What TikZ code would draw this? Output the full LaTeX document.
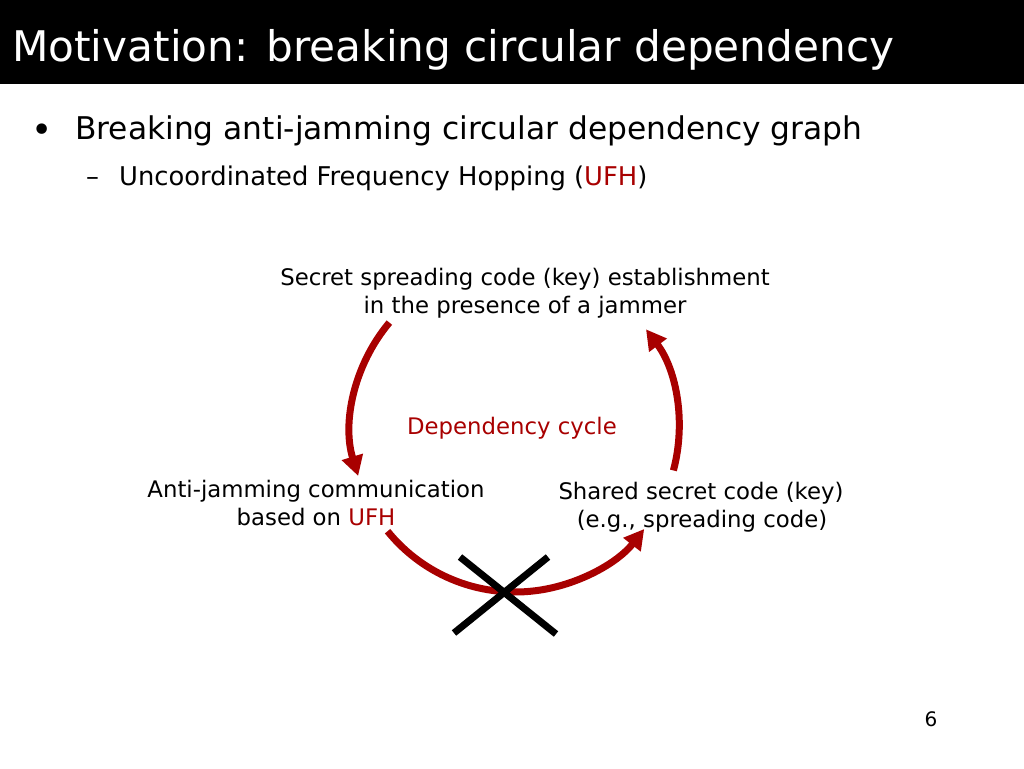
\documentclass[tikz,border=0pt]{standalone}
\usepackage{fontspec}
\setmainfont{DejaVu Sans}
\usetikzlibrary{arrows.meta}
\definecolor{cyc}{RGB}{168,0,0}
\tikzset{
  lbl/.style={inner sep=0pt, align=center, font=\fontsize{22.8}{28}\selectfont},
  cycarrow/.style={draw=cyc, line width=7pt, -{Triangle[length=20pt,width=21pt]}},
  crossline/.style={draw=black, line width=7pt}
}
\begin{document}
\begin{tikzpicture}[x=1pt,y=-1pt]
\useasboundingbox (0,0) rectangle (1024,768);
\fill[black] (0,0) rectangle (1024,84);
\node[anchor=base west, inner sep=0pt, text=white, font=\fontsize{42.2}{48}\selectfont] (title) at (12,61) {Motivation: breaking circular dependency};
\node[anchor=center, inner sep=0pt, font=\fontsize{36}{34}\selectfont] (bul) at (42,133) {•};
\node[anchor=base west, inner sep=0pt, font=\fontsize{31.3}{34}\selectfont] (b1) at (75,139) {Breaking anti-jamming circular dependency graph};
\node[anchor=base west, inner sep=0pt, font=\fontsize{25.8}{28}\selectfont] (dash) at (86,185) {–};
\node[anchor=base west, inner sep=0pt, font=\fontsize{25.8}{28}\selectfont] (b2) at (119,185) {Uncoordinated Frequency Hopping (\textcolor{cyc}{UFH})};

\node[lbl, anchor=base] (top1) at (525,285) {Secret spreading code (key) establishment};
\node[lbl, anchor=base] (top2) at (525,313) {in the presence of a jammer};
\node[lbl, anchor=base, text=cyc] (dep) at (512,434) {Dependency cycle};
\node[lbl, anchor=base] (l1) at (316,497) {Anti-jamming communication};
\node[lbl, anchor=base] (l2) at (316,525) {based on \textcolor{cyc}{UFH}};
\node[lbl, anchor=base] (r1) at (701,499) {Shared secret code (key)};
\node[lbl, anchor=base] (r2) at (702,527) {(e.g., spreading code)};
\node[anchor=base, inner sep=0pt, font=\fontsize{20}{22}\selectfont] (pg) at (931,726) {6};

\coordinate (O) at (515,428);
\draw[cycarrow] ([shift={(140:164pt)}]O) arc[start angle=140, end angle=197, radius=164pt];
\draw[cycarrow] ([shift={(-15:164pt)}]O) arc[start angle=-15, end angle=37, radius=164pt];
\draw[cycarrow] ([shift={(219:164pt)}]O) arc[start angle=219, end angle=322, radius=164pt];

\coordinate (xa) at (454,633);
\coordinate (xb) at (548,557);
\coordinate (xc) at (460,557);
\coordinate (xd) at (556,634);
\draw[crossline] (xa) -- (xb);
\draw[crossline] (xc) -- (xd);
\end{tikzpicture}
\end{document}
